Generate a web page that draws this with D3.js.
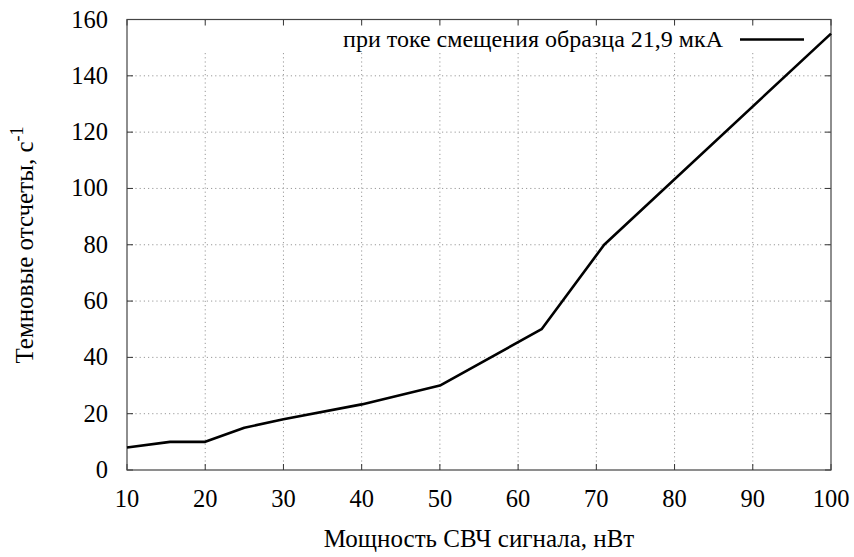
<!DOCTYPE html>
<html>
<head>
<meta charset="utf-8">
<script src="https://cdn.jsdelivr.net/npm/d3@7"></script>
</head>
<body style="margin:0">
<svg id="chart" width="854" height="557"></svg>
<script>
// data
var power = [10, 15.5, 20, 25, 30, 40, 50, 63, 71, 100];
var counts = [8, 10, 10, 15, 18, 23.3, 30, 50, 80, 155];
var xTicks = [10, 20, 30, 40, 50, 60, 70, 80, 90, 100];
var yTicks = [0, 20, 40, 60, 80, 100, 120, 140, 160];
var legendLabel = "при токе смещения образца 21,9 мкА";
var xTitle = "Мощность СВЧ сигнала, нВт";
var yTitle = "Темновые отсчеты, с";

var serif = "'Liberation Serif'";
var svg_dx = 854, svg_dy = 557;
var margin = { top: 19.5, right: 23, bottom: 87, left: 127 };

var svg = d3.select("#chart");

var x = d3.scaleLinear().domain([10, 100]).range([margin.left, svg_dx - margin.right]);
var y = d3.scaleLinear().domain([0, 160]).range([svg_dy - margin.bottom, margin.top]);

// dotted grid, inner lines only
var grid = svg.append("g")
  .attr("stroke", "#999").attr("stroke-dasharray", "1.2 3").attr("stroke-width", 1);
grid.selectAll(".gx").data(xTicks.slice(1, -1)).enter().append("line")
  .attr("x1", d => x(d)).attr("x2", d => x(d))
  .attr("y1", y(0)).attr("y2", y(160));
grid.selectAll(".gy").data(yTicks.slice(1, -1)).enter().append("line")
  .attr("x1", x(10)).attr("x2", x(100))
  .attr("y1", d => y(d)).attr("y2", d => y(d));

// key box hides the grid behind the legend (gnuplot style)
svg.append("rect")
  .attr("x", 190).attr("y", y(160) + 3)
  .attr("width", x(100) - 191).attr("height", 30)
  .attr("fill", "#fff");

// ticks inward, mirrored on top/right, labels drawn by hand below
var ticks = svg.append("g").attr("stroke", "#333");
ticks.selectAll(".tb").data(xTicks).enter().append("line")
  .attr("x1", d => x(d)).attr("x2", d => x(d)).attr("y1", y(0)).attr("y2", y(0) - 6);
ticks.selectAll(".tt").data(xTicks).enter().append("line")
  .attr("x1", d => x(d)).attr("x2", d => x(d)).attr("y1", y(160)).attr("y2", y(160) + 6);
ticks.selectAll(".tl").data(yTicks).enter().append("line")
  .attr("x1", x(10)).attr("x2", x(10) + 6).attr("y1", d => y(d)).attr("y2", d => y(d));
ticks.selectAll(".tr").data(yTicks).enter().append("line")
  .attr("x1", x(100)).attr("x2", x(100) - 6).attr("y1", d => y(d)).attr("y2", d => y(d));

svg.selectAll(".xl").data(xTicks).enter().append("text")
  .attr("x", d => x(d)).attr("y", y(0) + 37)
  .attr("text-anchor", "middle")
  .style("font-family", serif).style("font-size", "24.5px")
  .text(d => d);
svg.selectAll(".yl").data(yTicks).enter().append("text")
  .attr("x", x(10) - 19).attr("y", d => y(d) + 8)
  .attr("text-anchor", "end")
  .style("font-family", serif).style("font-size", "24.5px")
  .text(d => d);

// frame
svg.append("rect")
  .attr("x", x(10)).attr("y", y(160))
  .attr("width", x(100) - x(10)).attr("height", y(0) - y(160))
  .attr("fill", "none").attr("stroke", "#444").attr("stroke-width", 1.2);

// the curve
var line = d3.line()
  .x((d, i) => x(power[i]))
  .y((d, i) => y(counts[i]));
svg.append("path")
  .datum(counts)
  .attr("d", line)
  .attr("fill", "none")
  .attr("stroke", "#000")
  .attr("stroke-width", 2.6)
  .attr("stroke-linejoin", "round");

// legend
svg.append("text")
  .attr("x", 723).attr("y", 47)
  .attr("text-anchor", "end")
  .style("font-family", serif).style("font-size", "24px")
  .text(legendLabel);
svg.append("line")
  .attr("x1", 740).attr("x2", 804)
  .attr("y1", 39.5).attr("y2", 39.5)
  .attr("stroke", "#000").attr("stroke-width", 2.6);

// axis titles
svg.append("text")
  .attr("x", 479).attr("y", 547)
  .attr("text-anchor", "middle")
  .style("font-family", serif).style("font-size", "25px")
  .text(xTitle);

var yt = svg.append("text")
  .attr("transform", "translate(33,245) rotate(-90)")
  .attr("text-anchor", "middle")
  .style("font-family", serif).style("font-size", "25px");
yt.append("tspan").text(yTitle);
yt.append("tspan").attr("dy", -10).style("font-size", "18px").text("-1");
</script>
</body>
</html>
